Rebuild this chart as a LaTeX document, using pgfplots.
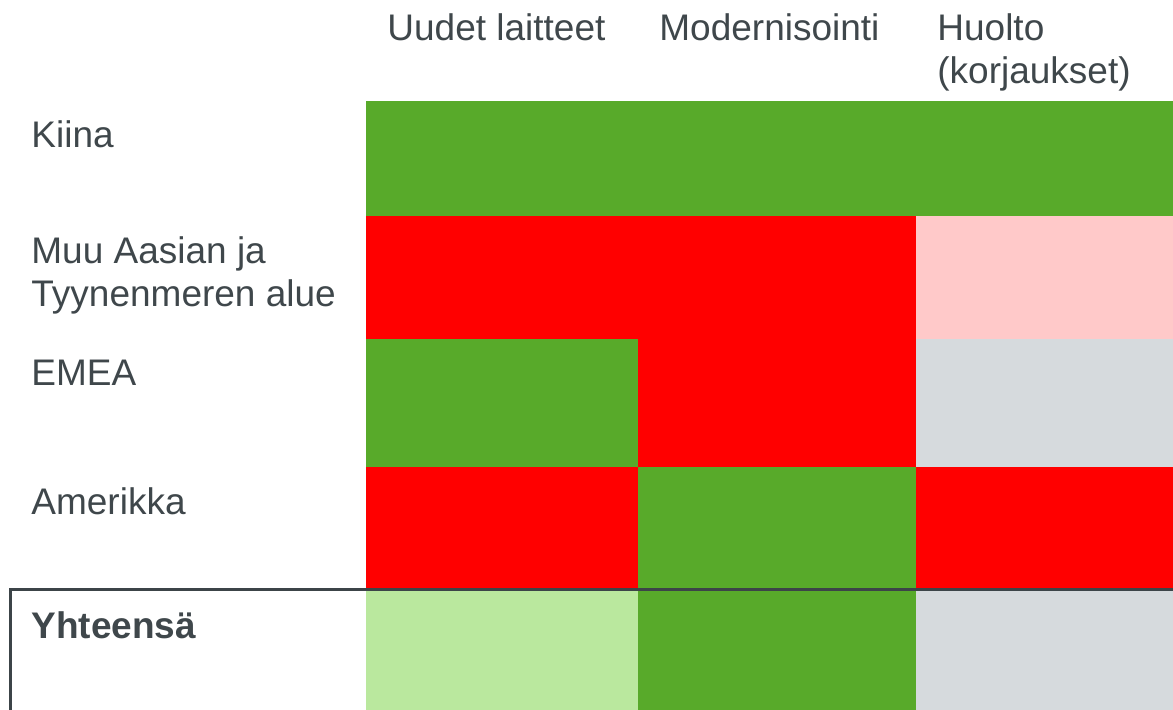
\documentclass[border=0pt]{standalone}
\usepackage{fontspec}
\setmainfont{Liberation Sans}
\usepackage{pgfplots}
\pgfplotsset{compat=1.18}
\definecolor{textgray}{RGB}{63,71,75}
\definecolor{framegray}{RGB}{60,68,72}
\begin{document}
\begin{tikzpicture}
\begin{axis}[
  scale only axis, width=586.5pt, height=355pt,
  xmin=0, xmax=1173, ymin=0, ymax=710,
  axis line style={draw=none}, major tick length=0pt,
  xtick={387,659,937},
  xticklabels={Uudet laitteet, Modernisointi, {Huolto\\(korjaukset)}},
  xticklabel pos=upper,
  ytick={590,474,350,223,99},
  yticklabels={Kiina, {Muu Aasian ja\\Tyynenmeren alue}, EMEA, Amerikka, \textbf{Yhteensä}},
  every tick label/.append style={font=\fontsize{18.5}{21.5}\selectfont, text=textgray, inner sep=0pt, align=left},
  xticklabel style={anchor=north west, yshift=-6.5pt},
  yticklabel style={anchor=north west, xshift=15.5pt},
  colormap={status}{rgb255=(88,170,42) rgb255=(255,0,0) rgb255=(255,201,201) rgb255=(214,218,221) rgb255=(186,232,158)},
  colormap access=direct,
]
\addplot[patch, patch type=rectangle, shader=flat, point meta=explicit] table[meta=c] {
x y c
366 609 0
638 609 0
638 494 0
366 494 0
638 609 0
916 609 0
916 494 0
638 494 0
916 609 0
1173 609 0
1173 494 0
916 494 0
366 494 1
638 494 1
638 371 1
366 371 1
638 494 1
916 494 1
916 371 1
638 371 1
916 494 2
1173 494 2
1173 371 2
916 371 2
366 371 0
638 371 0
638 243 0
366 243 0
638 371 1
916 371 1
916 243 1
638 243 1
916 371 3
1173 371 3
1173 243 3
916 243 3
366 243 1
638 243 1
638 121 1
366 121 1
638 243 0
916 243 0
916 121 0
638 121 0
916 243 1
1173 243 1
1173 121 1
916 121 1
366 121 4
638 121 4
638 0 4
366 0 4
638 121 0
916 121 0
916 0 0
638 0 0
916 121 3
1173 121 3
1173 0 3
916 0 3
};
\addplot[color=framegray, line width=1.5pt, mark=none] coordinates {(10,0) (10,120) (1173,120)};
\end{axis}
\pgfresetboundingbox
\path[use as bounding box] (0,0) rectangle (586.5pt,355pt);
\end{tikzpicture}
\end{document}
